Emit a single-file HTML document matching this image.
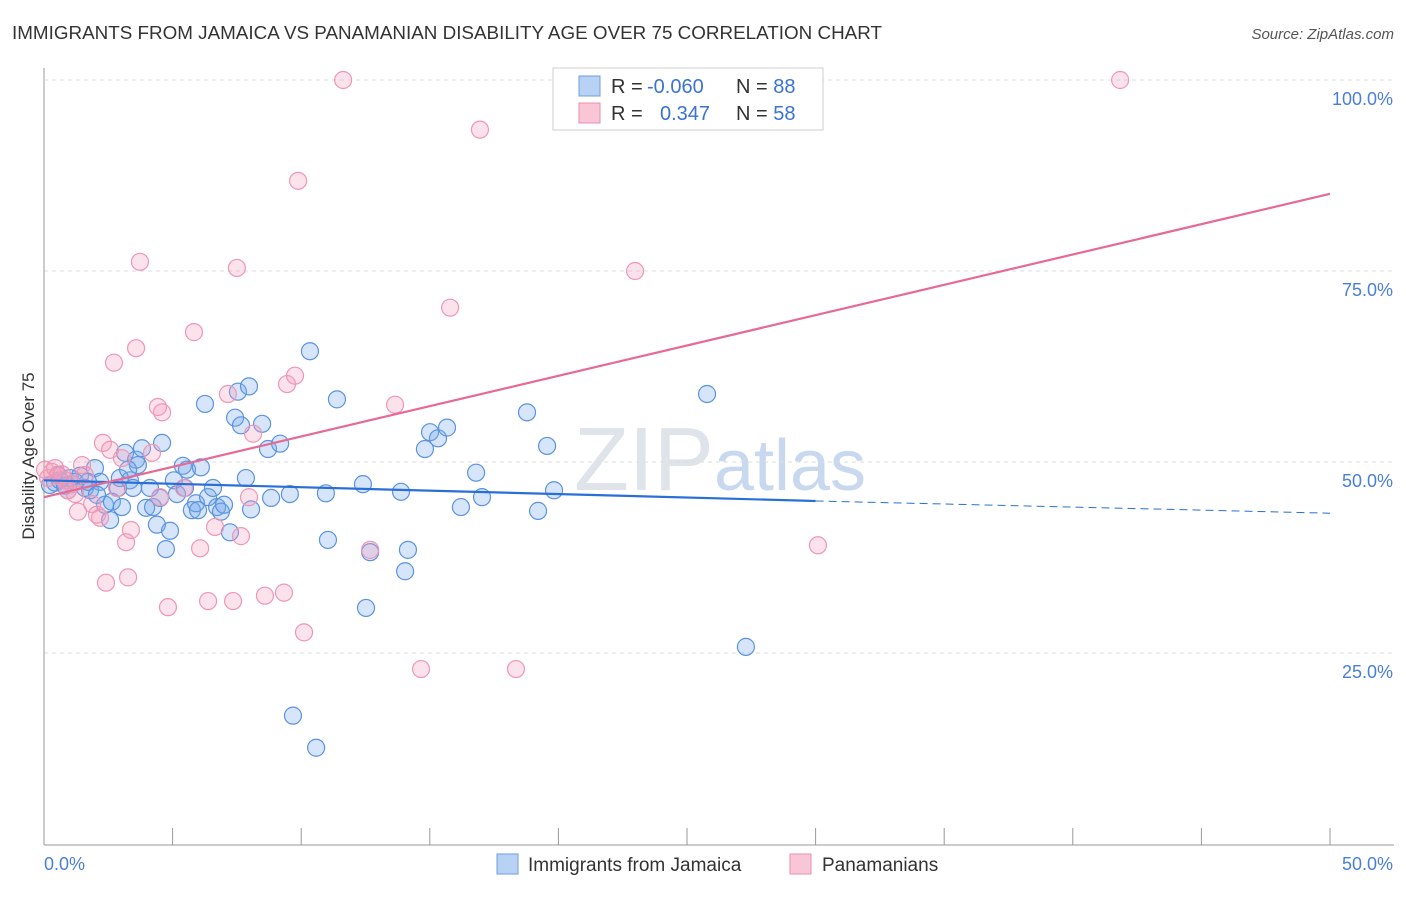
<!DOCTYPE html>
<html><head><meta charset="utf-8"><style>
body{margin:0;background:#fff;font-family:"Liberation Sans",sans-serif;}
svg text{font-family:"Liberation Sans",sans-serif;}
</style></head><body>
<svg id="c" width="1406" height="892" xmlns="http://www.w3.org/2000/svg">
<text x="12" y="39" font-size="18" fill="#333" textLength="870" lengthAdjust="spacingAndGlyphs">IMMIGRANTS FROM JAMAICA VS PANAMANIAN DISABILITY AGE OVER 75 CORRELATION CHART</text>
<text x="1394" y="39" font-size="15" fill="#555" text-anchor="end" font-style="italic">Source: ZipAtlas.com</text>
<text x="34" y="456" font-size="17" fill="#333" text-anchor="middle" transform="rotate(-90 34 456)">Disability Age Over 75</text>
<text x="720" y="490" font-size="90" fill="#dfe3ea" text-anchor="middle" font-family="Liberation Serif">ZIP<tspan fill="#c8d8ef" font-family="Liberation Sans" font-size="72">atlas</tspan></text>
<g id="grid"></g><g id="pts"></g><g id="trend"></g>
<g>
<rect x="553" y="68" width="270" height="62" fill="#fff" stroke="#ccc"/>
<rect x="579" y="76" width="21" height="20" fill="#b8d2f5" stroke="#6c9de0"/>
<rect x="579" y="103" width="21" height="20" fill="#f9c6d5" stroke="#eb8fae"/>
<text x="611" y="93" font-size="20" fill="#333">R = <tspan fill="#3a72d8" x="647">-0.060</tspan><tspan x="736">N = </tspan><tspan fill="#3a72d8">88</tspan></text>
<text x="611" y="120" font-size="20" fill="#333">R = <tspan fill="#3a72d8" x="660">0.347</tspan><tspan x="736">N = </tspan><tspan fill="#3a72d8">58</tspan></text>
</g>
<g>
<rect x="497" y="854" width="21" height="20" fill="#b8d2f5" stroke="#6c9de0"/>
<text x="528" y="871" font-size="19" fill="#333">Immigrants from Jamaica</text>
<rect x="790" y="854" width="21" height="20" fill="#f9c6d5" stroke="#eb8fae"/>
<text x="822" y="871" font-size="19" fill="#333">Panamanians</text>
</g>
</svg>
<script>
const xTicks=[0,5,10,15,20,25,30,35,40,45,50];
const yTicks=[25,50,75,100];
const yTickLabels=["25.0%","50.0%","75.0%","100.0%"];
const xTickLabels=["0.0%","50.0%"];
const blueX=[0.23,0.43,0.62,0.82,1.01,1.21,1.40,1.59,1.79,1.98,2.18,2.37,2.57,2.64,2.88,3.03,3.15,3.34,3.46,3.58,3.65,3.81,3.97,4.12,4.24,4.39,4.51,4.59,4.74,4.90,5.05,5.17,5.40,5.56,5.75,5.91,5.99,6.10,6.26,6.38,6.57,6.73,6.88,7.00,7.23,7.43,7.54,7.66,7.85,7.97,8.05,8.48,8.71,9.18,8.83,9.56,9.68,10.34,10.58,10.96,11.04,11.39,12.40,12.52,12.68,13.88,14.04,14.15,14.81,15.01,15.32,15.67,16.21,16.80,17.03,18.78,19.21,19.56,19.83,25.78,27.29,0.54,0.93,1.71,2.06,2.95,3.27,5.48];
const blueY=[47.0,47.3,47.6,46.9,47.9,47.4,48.2,46.6,46.3,49.2,47.4,44.4,42.4,44.8,46.6,44.1,51.2,47.6,46.6,50.3,49.6,51.8,44.0,46.6,44.1,41.8,45.3,52.5,38.6,41.0,47.6,45.8,49.5,49.0,43.7,44.6,43.7,49.3,57.6,45.4,46.6,44.1,43.5,44.4,40.8,55.8,59.2,54.8,47.9,59.9,43.8,55.0,51.7,52.4,45.3,45.8,16.8,64.5,12.6,45.9,39.8,58.2,47.1,30.9,38.2,46.1,35.7,38.5,51.7,53.9,53.1,54.5,44.1,48.6,45.4,56.5,43.6,52.1,46.3,58.9,25.8,48.3,46.3,47.4,45.7,47.9,49.0,46.6];
const pinkX=[0.04,0.16,0.31,0.43,0.54,0.70,0.82,0.93,1.09,1.21,1.32,1.48,1.59,1.87,2.06,2.18,2.29,2.41,2.57,2.72,2.84,3.03,3.19,3.27,3.38,3.58,3.73,4.20,4.43,4.59,4.51,4.82,5.44,5.83,6.07,6.38,6.65,7.15,7.35,7.50,7.66,7.97,8.13,8.59,9.33,9.45,9.76,9.88,10.11,11.63,12.68,13.65,14.66,15.79,16.95,18.35,22.98,30.09,41.84];
const pinkY=[49.0,47.9,48.7,49.2,48.2,48.4,47.6,46.3,47.1,45.8,43.5,49.6,48.3,44.5,43.1,42.7,52.5,34.2,51.6,63.0,46.6,50.5,39.5,34.9,41.1,64.9,76.2,51.2,57.2,56.5,45.4,31.0,46.6,67.0,38.7,31.8,41.5,58.9,31.8,75.4,40.3,45.4,53.7,32.5,32.9,60.2,61.3,86.8,27.7,100,38.5,57.5,22.9,70.2,93.5,22.9,75.0,39.1,100];
const blueTrendX=[0,30,50];
const blueTrendY=[47.6,44.9,43.3];
const pinkTrendX=[0,50];
const pinkTrendY=[45.4,85.1];
const X=v=>44+v*25.72, Y=v=>844-v*7.64;
const NS="http://www.w3.org/2000/svg";
function mk(t,a,p){const e=document.createElementNS(NS,t);for(const k in a)e.setAttribute(k,a[k]);p.appendChild(e);return e;}
const g=document.getElementById('grid');
yTicks.forEach((t,i)=>{
 const l=mk('line',{x1:44,x2:1394,y1:Y(t),y2:Y(t),stroke:'#ddd','stroke-dasharray':'4,4'},g);
 
 
 const tx=mk('text',{x:1393,y:Y(t)+25,'font-size':18,fill:'#4a7fd6','text-anchor':'end'},g);tx.textContent=yTickLabels[i];
 
 
});
const ax=mk('line',{x1:44,x2:1394,y1:845,y2:845,stroke:'#999'},g);


const ay=mk('line',{x1:44,x2:44,y1:68,y2:845,stroke:'#999'},g);


xTicks.forEach(t=>{const l=mk('line',{x1:X(t),x2:X(t),y1:828,y2:845,stroke:'#999'},g);
 
 });
const t0=mk('text',{x:44,y:870,'font-size':18,fill:'#4a7fd6'},g);t0.textContent=xTickLabels[0];


const t1=mk('text',{x:1393,y:870,'font-size':18,fill:'#4a7fd6','text-anchor':'end'},g);t1.textContent=xTickLabels[1];


const P=document.getElementById('pts');
blueX.forEach((v,i)=>{const c=mk('circle',{cx:X(v),cy:Y(blueY[i]),r:8.5,fill:'rgba(120,170,235,0.3)',stroke:'#5b93e0','stroke-width':1.2},P);
 
 });
pinkX.forEach((v,i)=>{const c=mk('circle',{cx:X(v),cy:Y(pinkY[i]),r:8.5,fill:'rgba(245,160,190,0.3)',stroke:'#ee97b4','stroke-width':1.2},P);
 
 });
const T=document.getElementById('trend');
const b1=mk('line',{x1:X(blueTrendX[0]),y1:Y(blueTrendY[0]),x2:X(blueTrendX[1]),y2:Y(blueTrendY[1]),stroke:'#2a6fd8','stroke-width':2.2},T);


const b2=mk('line',{x1:X(blueTrendX[1]),y1:Y(blueTrendY[1]),x2:X(blueTrendX[2]),y2:Y(blueTrendY[2]),stroke:'#2a6fd8','stroke-width':1,'stroke-dasharray':'8,5'},T);


const p1=mk('line',{x1:X(pinkTrendX[0]),y1:Y(pinkTrendY[0]),x2:X(pinkTrendX[1]),y2:Y(pinkTrendY[1]),stroke:'#e66a96','stroke-width':2.2},T);


const topGrid=mk('line',{x1:44,x2:1394,y1:80,y2:80,stroke:'#ddd','stroke-dasharray':'4,4'},g);


</script>
</body></html>
